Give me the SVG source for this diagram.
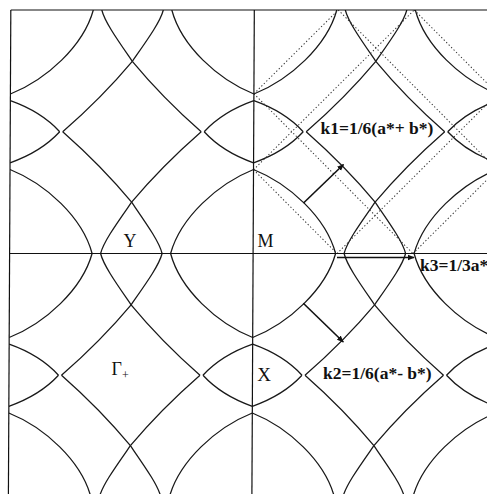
<svg xmlns="http://www.w3.org/2000/svg" xmlns:xlink="http://www.w3.org/1999/xlink" width="487" height="494" viewBox="0 0 487 494">
<style>
.fs{fill:none;stroke:#1a1a1a;stroke-width:1.3}
.dt{fill:none;stroke:#333;stroke-width:1;stroke-dasharray:1.3 2.2}
.ax{fill:none;stroke:#111;stroke-width:1.2}
.lbl{font-family:"Liberation Serif","Times New Roman",serif;fill:#111}
.k{font-family:"Liberation Serif","Times New Roman",serif;font-weight:bold;font-size:17.5px;fill:#111}
.arr{stroke:#111;stroke-width:1.6;fill:none}
</style>
<defs>
<marker id="ah" viewBox="0 0 10 10" refX="9" refY="5" markerWidth="7" markerHeight="7" markerUnits="userSpaceOnUse" orient="auto">
<path d="M0,1 L10,5 L0,9 Z" fill="#111"/>
</marker>
<clipPath id="frame"><rect x="9.6" y="10" width="500" height="500"/></clipPath>
<clipPath id="quad"><rect x="253.1" y="10" width="240" height="243.5"/></clipPath>
<g id="tile">
<path class="fs" d="M0,84 C36,69.6 72.7,36 82.5,0"/>
<path class="fs" d="M0,90.7 C15,96 35,106 49.5,121.75"/>
<path class="fs" d="M91,0 C94,12 107,30 121.75,51.3"/>
<path class="fs" d="M121.75,51.3 C102,75 75,102 52.5,121.75"/>
</g>
</defs>
<rect width="487" height="494" fill="#fff"/>
<g transform="matrix(1,0,-0.005,1,1.2675,0)">
<g id="fermi-surface" clip-path="url(#frame)">
<use xlink:href="#tile" transform="translate(9.6,10) scale(1,1)"/>
<use xlink:href="#tile" transform="translate(253.1,10) scale(-1,1)"/>
<use xlink:href="#tile" transform="translate(253.1,10) scale(1,1)"/>
<use xlink:href="#tile" transform="translate(496.6,10) scale(-1,1)"/>
<use xlink:href="#tile" transform="translate(9.6,253.5) scale(1,-1)"/>
<use xlink:href="#tile" transform="translate(253.1,253.5) scale(-1,-1)"/>
<use xlink:href="#tile" transform="translate(253.1,253.5) scale(1,-1)"/>
<use xlink:href="#tile" transform="translate(496.6,253.5) scale(-1,-1)"/>
<use xlink:href="#tile" transform="translate(9.6,253.5) scale(1,1)"/>
<use xlink:href="#tile" transform="translate(253.1,253.5) scale(-1,1)"/>
<use xlink:href="#tile" transform="translate(253.1,253.5) scale(1,1)"/>
<use xlink:href="#tile" transform="translate(496.6,253.5) scale(-1,1)"/>
<use xlink:href="#tile" transform="translate(9.6,497) scale(1,-1)"/>
<use xlink:href="#tile" transform="translate(253.1,497) scale(-1,-1)"/>
<use xlink:href="#tile" transform="translate(253.1,497) scale(1,-1)"/>
<use xlink:href="#tile" transform="translate(496.6,497) scale(-1,-1)"/>
</g>
<g id="dotted-surface" clip-path="url(#quad)">
<path class="dt" d="M253.1,93.8 L337,10"/>
<path class="dt" d="M253.1,169.8 L413,10"/>
<path class="dt" d="M253.1,93.7 L413,253.5"/>
<path class="dt" d="M253.1,169.7 L337,253.5"/>
<path class="dt" d="M337,10 L487,160"/>
<path class="dt" d="M413,10 L487,84"/>
<path class="dt" d="M337,253.5 L487,103.4"/>
<path class="dt" d="M413,253.5 L487,179.4"/>
</g>
<g id="axes">
<line class="ax" x1="9.6" y1="10" x2="487" y2="10"/>
<line class="ax" x1="9.6" y1="10" x2="9.6" y2="494" stroke="#444"/>
<line class="ax" x1="253.1" y1="10" x2="253.1" y2="494"/>
<line class="ax" x1="9.6" y1="253.5" x2="487" y2="253.5"/>
</g>
</g>
<g id="connectors">
<line class="arr" x1="303.5" y1="203" x2="343.5" y2="164.5" marker-end="url(#ah)"/>
<line class="arr" x1="303.3" y1="303.3" x2="343.3" y2="342" marker-end="url(#ah)"/>
<line class="arr" x1="337" y1="257.5" x2="414" y2="257.5" stroke-width="2" marker-end="url(#ah)"/>
</g>
<g id="label-Y"><text class="lbl" x="130" y="246.5" font-size="18" text-anchor="middle">Y</text></g>
<g id="label-M"><text class="lbl" x="265.5" y="246.5" font-size="18" text-anchor="middle">M</text></g>
<g id="label-X"><text class="lbl" x="264" y="381" font-size="19" text-anchor="middle">X</text></g>
<g id="label-Gamma"><text class="lbl" x="111.5" y="375" font-size="18">Γ<tspan font-size="12" dy="3.5">+</tspan></text></g>
<g id="label-k1"><text class="k" x="320.5" y="134">k1=1/6(a*+ b*)</text></g>
<g id="label-k2"><text class="k" x="323" y="379">k2=1/6(a*- b*)</text></g>
<g id="label-k3"><text class="k" x="420" y="270.5">k3=1/3a*</text></g>
</svg>
